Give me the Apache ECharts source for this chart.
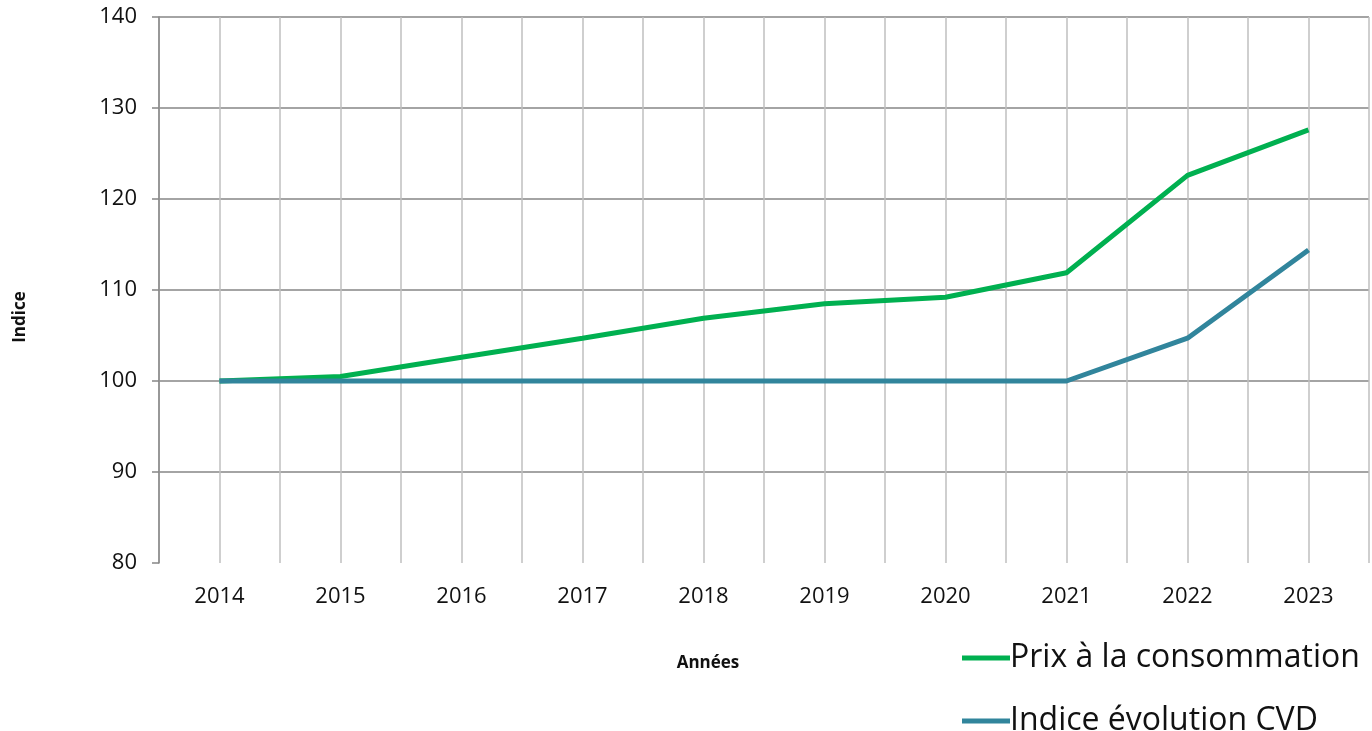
<!DOCTYPE html>
<html>
<head>
<meta charset="utf-8">
<script src="https://cdn.jsdelivr.net/npm/echarts@6/dist/echarts.min.js"></script>
<style>
  html, body { margin: 0; padding: 0; background: #fff; }
  #main { width: 1372px; height: 731px; }
</style>
</head>
<body>
<div id="main"></div>
<script>
var years = [2014, 2015, 2016, 2017, 2018, 2019, 2020, 2021, 2022, 2023];
var prixConso = [100, 100.5, 102.6, 104.7, 106.9, 108.5, 109.2, 111.9, 122.6, 127.6];
var indiceCvd = [100, 100, 100, 100, 100, 100, 100, 100, 104.7, 114.4];
var seriesNames = ['Prix à la consommation', 'Indice évolution CVD'];

function pairs(vals) {
    return years.map(function (y, i) { return [y, vals[i]]; });
}

var myChart = echarts.init(document.getElementById('main'));
var font = '"Open Sans", "Noto Sans", sans-serif';

var option = {
    backgroundColor: '#ffffff',
    textStyle: { fontFamily: font },
    animation: false,
    grid: { left: 159, right: -4, top: 17, bottom: 168 },
    legend: {
        orient: 'vertical',
        left: 962,
        top: 642,
        width: 420,
        height: 200,
        padding: 0,
        itemGap: 31,
        icon: 'rect',
        itemWidth: 48,
        itemHeight: 5,
        textStyle: { fontSize: 32, lineHeight: 28, color: '#111', fontFamily: font, padding: [0, 0, 0, -5] },
        data: seriesNames
    },
    xAxis: {
        type: 'value',
        min: 2013.5,
        max: 2023.5,
        interval: 0.5,
        name: 'Années',
        nameLocation: 'middle',
        nameGap: 92,
        nameTextStyle: { fontWeight: 'bold', fontSize: 17, color: '#111', padding: [0, 112, 0, 0] },
        axisLine: { show: false },
        axisTick: { show: false },
        axisLabel: {
            fontSize: 22,
            color: '#111',
            margin: 23,
            formatter: function (v) { return Number.isInteger(v) ? String(v) : ''; }
        },
        splitLine: { show: true, lineStyle: { color: '#bfbfbf', width: 1.5 } }
    },
    yAxis: {
        type: 'value',
        min: 80,
        max: 140,
        interval: 10,
        name: 'Indice',
        nameLocation: 'middle',
        nameRotate: 90,
        nameGap: 130,
        nameTextStyle: { fontWeight: 'bold', fontSize: 17, color: '#111', padding: [0, 54, 0, 0] },
        axisLine: { show: true, lineStyle: { color: '#868686', width: 1.5 } },
        axisTick: { show: true, length: 7, lineStyle: { color: '#868686', width: 1.5 } },
        axisLabel: { fontSize: 22, color: '#111', margin: 22 },
        splitLine: {
            show: true,
            lineStyle: {
                color: ['rgba(0,0,0,0)', '#868686', '#868686', '#868686', '#868686', '#868686', '#868686'],
                width: 1.5
            }
        }
    },
    series: [
        {
            name: seriesNames[0],
            type: 'line',
            symbol: 'none',
            itemStyle: { color: '#00b050' },
            lineStyle: { color: '#00b050', width: 5 },
            data: pairs(prixConso)
        },
        {
            name: seriesNames[1],
            type: 'line',
            symbol: 'none',
            itemStyle: { color: '#31859c' },
            lineStyle: { color: '#31859c', width: 5 },
            data: pairs(indiceCvd)
        }
    ]
};

myChart.setOption(option);
</script>
</body>
</html>
